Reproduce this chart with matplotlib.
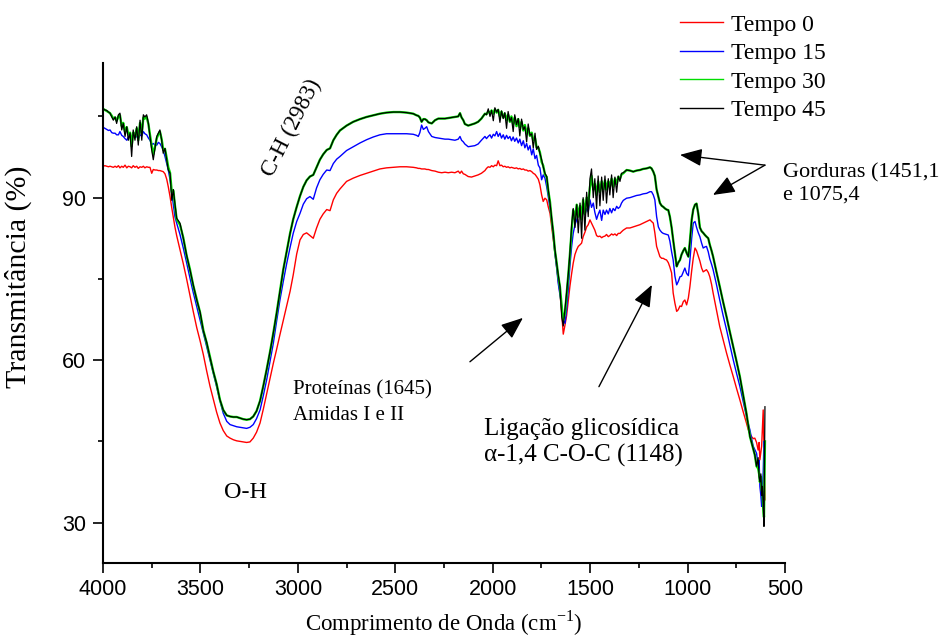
import matplotlib
matplotlib.use('Agg')
import matplotlib.pyplot as plt
from matplotlib.ticker import MultipleLocator

# FTIR spectra, wavenumber in cm-1 (descending)
wavenumber = [
    4000, 3990, 3981, 3972, 3964, 3955, 3947, 3938, 3930, 3921,
    3913, 3904, 3896, 3887, 3878, 3870, 3861, 3853, 3845, 3836,
    3827, 3819, 3810, 3801, 3793, 3785, 3776, 3767, 3759, 3750,
    3742, 3733, 3724, 3716, 3708, 3699, 3691, 3682, 3673, 3665,
    3656, 3647, 3639, 3631,
    3622, 3605, 3588, 3571, 3554, 3537, 3519, 3502, 3485, 3468,
    3451, 3434, 3417, 3400, 3383, 3365, 3348, 3331, 3314, 3297,
    3280, 3263, 3246, 3229, 3212, 3194, 3177, 3160, 3143, 3126,
    3109, 3092, 3075, 3057, 3040, 3024, 3006, 2989, 2972, 2955,
    2938, 2921, 2904, 2887, 2870, 2852, 2835, 2818, 2801, 2784,
    2750, 2716, 2681, 2647, 2613, 2579, 2545, 2510, 2476, 2442,
    2408, 2391, 2382, 2374, 2365, 2356, 2348, 2339, 2330, 2313,
    2296, 2279, 2262, 2245, 2228, 2211, 2194, 2177, 2168, 2160,
    2151, 2143, 2126, 2109, 2092, 2075, 2058, 2040,
    2032, 2023, 2014, 2006, 1997, 1989, 1980, 1972, 1963, 1955,
    1946, 1938, 1929, 1921, 1912, 1904, 1895, 1887, 1878, 1869,
    1861, 1852, 1843, 1835, 1826, 1818, 1809, 1800, 1792, 1783,
    1775, 1766,
    1758, 1749, 1741, 1732, 1723, 1715, 1706, 1698, 1689, 1681,
    1672, 1664, 1655, 1646, 1638, 1629, 1621, 1612,
    1604, 1595, 1587, 1578, 1569, 1561, 1552, 1544, 1536, 1527,
    1518, 1510, 1501, 1493, 1484, 1476, 1467, 1459, 1450, 1441,
    1433, 1424, 1416, 1407, 1399, 1390, 1382, 1373, 1364, 1356,
    1347, 1339, 1330,
    1313, 1296, 1279, 1262, 1245, 1228, 1210, 1193, 1185, 1176,
    1168, 1159, 1150, 1142, 1133, 1125, 1116, 1108, 1099, 1091,
    1082, 1074, 1065, 1056, 1048, 1039, 1031, 1022, 1014, 1005,
    996, 988, 979, 971, 962, 954, 945, 937, 928, 920,
    911, 903, 894, 886, 877, 869, 852, 835, 818, 800,
    783, 766, 749, 732, 715, 698, 689, 680, 672, 663,
    655, 646, 638, 633, 629, 624, 620, 616, 612, 608,
    603,
]

tempo_0 = [
    95.8, 95.9, 95.8, 95.7, 95.8, 95.7, 95.6, 95.8, 95.6, 95.9,
    95.5, 95.8, 95.6, 96.0, 95.5, 95.8, 95.7, 95.5, 95.9, 95.6,
    95.8, 95.4, 95.7, 95.6, 95.8, 95.5, 95.7, 95.6, 95.6, 94.5,
    95.2, 95.1, 95.1, 95.0, 95.0, 94.9, 94.8, 94.4, 93.4, 92.0,
    90.2, 88.1, 86.4, 84.6,
    83.0, 80.4, 77.8, 75.0, 72.0, 69.0, 66.0, 63.6, 61.0, 58.0,
    55.2, 52.8, 50.4, 48.4, 47.0, 46.0, 45.6, 45.3, 45.1, 45.0,
    44.9, 44.8, 44.9, 45.6, 46.7, 48.4, 51.0, 53.8, 56.6, 59.4,
    62.0, 64.7, 67.3, 70.0, 72.7, 75.7, 79.6, 82.2, 83.2, 83.5,
    83.0, 82.5, 84.4, 86.0, 87.0, 87.8, 87.6, 89.6, 90.8, 91.6,
    93.0, 93.6, 94.1, 94.5, 94.9, 95.3, 95.5, 95.6, 95.7, 95.7,
    95.6, 95.5, 95.4, 95.4, 95.3, 95.3, 95.3, 95.2, 95.2, 95.0,
    94.9, 94.7, 94.6, 94.7, 94.6, 94.7, 94.6, 94.9, 94.5, 94.9,
    94.4, 94.3, 93.9, 93.8, 94.0, 94.2, 94.5, 95.0,
    95.4, 95.7, 95.6, 95.9, 95.7, 96.0, 95.9, 96.8, 95.9, 96.0,
    95.7, 95.8, 95.6, 95.7, 95.5, 95.6, 95.5, 95.4, 95.5, 95.3,
    95.4, 95.2, 95.3, 95.1, 95.1, 94.9, 95.0, 94.8, 94.5, 94.3,
    93.9, 93.4,
    92.4, 90.5, 89.3, 89.9, 89.6, 88.3, 87.1, 84.8, 82.2, 79.8,
    77.3, 74.8, 72.4, 68.7, 64.8, 66.5, 68.2, 71.0,
    73.6, 76.0, 77.9, 79.5, 80.4, 81.0, 81.3, 81.6, 82.8, 83.6,
    84.6, 85.0, 85.9, 85.3, 84.6, 84.0, 83.0, 82.8, 82.9, 82.6,
    82.8, 82.9, 83.2, 82.8, 83.0, 83.3, 83.1, 83.3, 83.0, 83.4,
    83.4, 83.7, 84.0,
    84.4, 84.4, 84.6, 84.8, 85.0, 85.3, 85.6, 85.9, 85.6, 85.3,
    83.5, 81.0, 80.0, 79.1, 78.8, 78.8, 78.6, 78.5, 78.0, 77.2,
    76.1, 72.4, 70.5, 69.0, 69.3, 70.0, 69.9, 70.8, 71.1, 70.2,
    71.5, 73.6, 76.5, 78.8, 80.7, 80.2, 79.2, 78.3, 77.0, 76.3,
    76.5, 76.7, 76.2, 75.4, 74.0, 72.4, 69.3, 66.2, 63.8, 61.3,
    59.1, 57.0, 54.8, 52.7, 50.5, 48.4, 47.2, 46.4, 45.9, 45.5,
    45.6, 44.8, 43.4, 44.8, 41.6, 43.0, 44.1, 47.5, 50.8, 43.0,
    34.2,
]

tempo_15 = [
    103.0, 102.8, 102.6, 102.4, 102.5, 102.0, 101.9, 101.9, 101.6, 101.6,
    102.2, 101.5, 101.3, 100.9, 100.6, 101.2, 101.6, 100.8, 101.9, 101.2,
    101.3, 100.9, 101.6, 101.4, 102.2, 101.8, 101.6, 101.0, 100.6, 99.8,
    100.0, 99.7, 99.7, 100.2, 100.0, 99.4, 98.8, 97.6, 96.3, 95.1,
    93.3, 90.8, 88.5, 86.5,
    85.3, 83.2, 80.7, 78.0, 75.2, 72.5, 69.9, 67.5, 65.0, 62.5,
    60.1, 57.6, 55.1, 52.5, 50.2, 48.7, 48.1, 47.9, 47.7, 47.6,
    47.5, 47.4, 47.6, 48.1, 49.2, 50.8, 53.5, 56.4, 59.8, 63.1,
    67.2, 71.1, 74.5, 77.9, 80.8, 83.4, 85.6, 87.1, 88.8, 89.8,
    90.2, 89.7, 91.8, 93.3, 94.3, 95.1, 95.0, 96.3, 97.1, 97.6,
    98.7, 99.4, 100.1, 100.7, 101.2, 101.6, 101.8, 101.8, 101.8, 101.8,
    101.7, 101.5, 101.3, 102.0, 103.4, 102.6, 102.8, 103.1, 102.2, 101.3,
    101.1, 101.0, 100.9, 100.8, 100.8, 100.7, 100.6, 100.8, 101.3, 100.6,
    100.3, 99.9, 99.4, 99.5, 99.6, 99.9, 100.6, 101.3,
    100.9, 101.3, 101.6, 101.0, 101.7, 101.4, 102.2, 101.3, 101.9, 101.0,
    101.6, 100.8, 101.5, 100.9, 101.3, 100.5, 101.2, 100.4, 101.0, 100.1,
    100.8, 99.6, 100.5, 99.2, 100.0, 98.8, 99.6, 97.9, 99.0, 97.2,
    97.8, 96.0,
    95.5, 93.3, 94.2, 93.6, 92.0, 90.2, 88.0, 85.9, 82.8, 79.7,
    77.0, 74.2, 72.0, 69.9, 67.4, 66.8, 69.3, 73.2,
    77.3, 81.0, 83.4, 85.0, 85.9, 86.8, 87.1, 86.3, 87.7, 86.8,
    88.0, 87.4, 89.6, 88.2, 89.0, 87.3, 86.0, 86.9, 87.7, 85.8,
    87.7, 86.9, 87.7, 87.0, 88.0, 87.2, 88.0, 87.6, 88.4, 88.0,
    88.3, 89.0, 89.5,
    89.9, 90.0, 90.2, 90.4, 90.5, 90.7, 90.8, 91.1, 91.1, 90.5,
    89.6, 86.5, 84.6, 84.0, 83.6, 83.4, 83.3, 83.2, 83.1, 82.0,
    80.0, 78.5, 75.5, 73.9, 74.5, 75.4, 75.5, 76.3, 77.0, 76.0,
    75.6, 78.5, 82.5, 85.3, 85.6, 84.5, 83.5, 82.8, 81.6, 80.7,
    80.9, 81.0, 80.0, 78.7, 77.7, 76.7, 74.0, 71.1, 68.3, 65.6,
    62.8, 60.1, 57.6, 55.2, 52.4, 49.6, 48.3, 47.1, 45.6, 44.1,
    43.5, 42.8, 40.5, 41.5, 36.7, 35.0, 33.0, 36.0, 39.2, 45.0,
    43.4,
]

tempo_30 = [
    106.4, 106.2, 106.0, 105.8, 105.6, 105.1, 104.6, 104.8, 104.2, 105.0,
    105.2, 103.2, 103.8, 102.2, 103.0, 101.6, 102.0, 99.5, 102.0, 101.2,
    102.8, 100.6, 103.8, 101.8, 104.8, 104.6, 104.9, 103.6, 101.6, 99.5,
    98.0, 99.4, 101.0, 101.7, 102.2, 100.8, 98.8, 99.0, 97.3, 95.6,
    94.6, 91.0, 91.3, 88.6,
    86.0, 85.0, 82.6, 79.3, 76.8, 73.8, 71.2, 68.8, 65.5, 63.2,
    60.6, 57.9, 55.6, 52.7, 50.8, 49.8, 49.6, 49.5, 49.5, 49.3,
    49.1, 49.0, 49.1, 49.6, 50.6, 52.5, 55.3, 58.3, 61.5, 65.0,
    68.7, 72.7, 76.7, 80.2, 83.4, 86.0, 88.3, 90.3, 92.0, 93.2,
    93.9, 94.2, 95.6, 97.0, 98.0, 98.8, 99.1, 100.6, 101.6, 102.4,
    103.3, 104.0, 104.5, 104.9, 105.2, 105.5, 105.7, 105.8, 105.8, 105.7,
    105.5, 105.2, 105.1, 104.8, 104.0, 104.5, 104.5, 104.3, 103.9, 103.7,
    104.3, 104.6, 104.6, 104.6, 104.7, 104.8, 104.9, 105.0, 105.6, 104.8,
    104.3, 103.6, 103.3, 103.5, 103.7, 104.0, 104.6, 105.5,
    105.4, 105.9, 105.7, 106.1, 105.5, 106.3, 105.7, 106.2, 105.0, 105.9,
    104.8, 105.5, 104.3, 105.3, 104.0, 105.0, 103.6, 104.8, 103.2, 104.5,
    103.0, 104.0, 102.4, 103.4, 101.8, 102.8, 101.4, 102.0, 100.6, 101.0,
    99.3, 99.2,
    98.4, 96.6, 95.9, 94.3, 93.8, 91.3, 89.2, 86.2, 83.5, 80.3,
    78.0, 75.6, 73.5, 69.9, 67.4, 68.7, 72.0, 75.8,
    79.5, 84.0, 87.7, 86.0, 88.7, 86.5, 88.5, 86.0, 89.6, 87.0,
    90.0, 88.5, 92.0, 94.0, 91.5, 92.5, 90.5, 93.0, 91.0, 93.0,
    91.5, 93.2, 91.5, 93.0, 92.0, 93.5, 92.0, 93.5, 92.5, 93.8,
    93.5, 94.3, 94.5,
    95.1, 95.0, 94.8, 95.0, 95.1, 95.3, 95.4, 95.6, 95.4, 94.8,
    94.0, 91.5, 90.2, 89.0, 88.5, 88.3, 88.0, 87.8, 87.7, 86.5,
    84.5, 82.2, 79.8, 77.3, 78.0, 78.5, 79.5, 80.2, 80.7, 79.8,
    79.1, 82.0, 85.9, 87.8, 88.7, 88.9, 87.0, 84.5, 83.8, 83.5,
    83.1, 82.8, 82.5, 81.3, 80.2, 79.1, 76.3, 73.6, 70.8, 68.0,
    65.2, 62.5, 59.8, 57.0, 53.6, 50.2, 48.0, 45.9, 44.8, 43.5,
    42.5, 40.4, 40.0, 39.0, 37.5, 38.5, 36.0, 35.5, 33.0, 31.0,
    45.0,
]

tempo_45 = [
    106.4, 106.2, 106.1, 105.8, 105.6, 104.9, 104.3, 104.9, 103.7, 105.3,
    105.6, 102.5, 103.7, 101.3, 103.1, 100.6, 101.9, 97.6, 102.5, 100.6,
    103.1, 99.7, 104.3, 100.6, 105.3, 104.9, 105.3, 103.7, 101.3, 98.8,
    97.0, 99.1, 101.3, 101.9, 102.5, 100.6, 98.2, 99.1, 97.0, 95.1,
    94.5, 89.5, 91.5, 88.9,
    86.2, 85.3, 82.5, 79.4, 76.7, 73.9, 71.1, 68.9, 65.4, 63.3,
    60.5, 57.9, 55.6, 52.7, 50.8, 49.8, 49.6, 49.5, 49.5, 49.3,
    49.1, 49.0, 49.1, 49.6, 50.6, 52.5, 55.3, 58.3, 61.5, 65.0,
    68.7, 72.7, 76.7, 80.2, 83.4, 86.0, 88.3, 90.3, 92.0, 93.2,
    93.9, 94.2, 95.6, 97.0, 98.0, 98.8, 99.1, 100.6, 101.6, 102.4,
    103.3, 104.0, 104.5, 104.9, 105.2, 105.5, 105.7, 105.8, 105.8, 105.7,
    105.5, 105.2, 105.1, 104.8, 104.0, 104.5, 104.5, 104.3, 103.9, 103.7,
    104.3, 104.6, 104.6, 104.6, 104.7, 104.8, 104.9, 105.0, 105.6, 104.8,
    104.3, 103.6, 103.3, 103.5, 103.7, 104.0, 104.6, 105.5,
    105.3, 106.4, 105.0, 106.1, 104.2, 106.6, 105.8, 106.3, 103.9, 106.0,
    104.6, 105.7, 102.8, 105.9, 104.1, 104.8, 102.2, 105.3, 103.5, 104.6,
    101.4, 104.5, 102.6, 103.1, 100.3, 103.6, 101.5, 101.8, 99.2, 101.9,
    98.9, 99.5,
    98.2, 97.0, 95.7, 94.5, 93.9, 91.5, 89.0, 86.4, 83.4, 80.5,
    77.9, 75.8, 73.6, 68.0, 66.3, 69.5, 72.4, 76.0,
    79.7, 85.0, 88.0, 84.5, 88.7, 83.5, 89.0, 82.5, 90.0, 84.0,
    91.0, 86.5, 93.5, 95.3, 90.0, 93.5, 88.0, 94.0, 88.5, 93.8,
    89.5, 94.0, 89.0, 93.5, 90.5, 94.2, 90.0, 93.8, 91.0, 94.0,
    93.0, 94.5, 94.6,
    95.1, 95.0, 94.8, 95.0, 95.1, 95.3, 95.4, 95.6, 95.4, 94.8,
    94.0, 91.5, 90.2, 89.0, 88.5, 88.3, 88.0, 87.8, 87.7, 86.5,
    84.5, 82.2, 79.8, 77.3, 78.0, 78.5, 79.5, 80.2, 80.7, 79.8,
    79.1, 82.0, 85.9, 87.8, 88.7, 88.9, 87.0, 84.5, 83.8, 83.5,
    83.1, 82.8, 82.5, 81.3, 80.2, 79.1, 76.3, 73.6, 70.8, 68.0,
    65.2, 62.5, 59.8, 57.0, 53.6, 50.2, 48.0, 45.9, 44.8, 43.5,
    42.5, 40.4, 42.0, 38.5, 37.5, 39.0, 35.0, 36.7, 33.6, 29.3,
    51.4,
]

labels = ['Tempo 0', 'Tempo 15', 'Tempo 30', 'Tempo 45']
colors = ['#ff0000', '#0000ff', '#00dd00', '#000000']
widths = [1.0, 1.0, 1.7, 0.9]

for s in (tempo_0, tempo_15, tempo_30, tempo_45):
    assert len(s) == len(wavenumber), len(s)

serif = 'Liberation Serif'
plt.rcParams['font.family'] = 'Liberation Sans'
plt.rcParams['mathtext.fontset'] = 'custom'
plt.rcParams['mathtext.rm'] = serif

fig = plt.figure(figsize=(9.52, 6.39), dpi=100)
ax = fig.add_axes([0.1082, 0.1194, 0.7164, 0.7815])

for vals, lab, col, lw in zip((tempo_0, tempo_15, tempo_30, tempo_45), labels, colors, widths):
    ax.plot(wavenumber, vals, color=col, lw=lw, label=lab)

ax.set_xlim(4000, 500)
ax.set_ylim(22.6, 114.8)
ax.xaxis.set_major_locator(MultipleLocator(500))
ax.xaxis.set_minor_locator(MultipleLocator(250))
ax.yaxis.set_major_locator(MultipleLocator(30))
ax.yaxis.set_minor_locator(MultipleLocator(15))
for side in ('top', 'right'):
    ax.spines[side].set_visible(False)
for side in ('left', 'bottom'):
    ax.spines[side].set_linewidth(1.5)
ax.tick_params(which='major', direction='out', length=7, width=1.2, labelsize=15.5, pad=5)
ax.tick_params(which='minor', direction='out', length=3.5, width=1.2)

ax.set_xlabel('Comprimento de Onda (cm$^{-1}$)', fontsize=16.5, family=serif)
ax.set_ylabel('Transmitância (%)', fontsize=21.5, family=serif)
ax.xaxis.set_label_coords(0.5, -0.092)
ax.yaxis.set_label_coords(-0.104, 0.573)

leg = ax.legend(loc='upper left', bbox_to_anchor=(680 / 952, 1 - 14 / 639),
                bbox_transform=fig.transFigure, frameon=False,
                prop={'family': serif, 'size': 17}, handlelength=1.82,
                handletextpad=0.34, labelspacing=0.3, borderpad=0, borderaxespad=0)
for line in leg.get_lines():
    line.set_linewidth(1.0)

ax.text(3030, 102.9, 'C-H (2983)', rotation=63, ha='center', va='center',
        rotation_mode='anchor', family=serif, fontsize=16.5)
ax.text(3270, 35.6, 'O-H', ha='center', va='center', family=serif, fontsize=17.5)
ax.text(3024, 52.2, 'Proteínas (1645)\nAmidas I e II', ha='left', va='center',
        linespacing=1.45, family=serif, fontsize=15)
ax.text(2045, 44.8, 'Ligação glicosídica\nα-1,4 C-O-C (1148)', ha='left', va='center',
        linespacing=1.24, family=serif, fontsize=18)
ax.text(509, 92.6, 'Gorduras (1451,1\ne 1075,4', ha='left', va='center',
        linespacing=1.2, family=serif, fontsize=16)

arrow = dict(arrowstyle='-|>,head_length=0.9,head_width=0.36', color='black',
             lw=1.0, mutation_scale=15, shrinkA=0, shrinkB=0)
ax.annotate('', xy=(1845, 67.8), xytext=(2117, 59.7), arrowprops=arrow)
ax.annotate('', xy=(1183, 73.9), xytext=(1455, 55.1), arrowprops=arrow)
ax.annotate('', xy=(1039, 97.9), xytext=(603, 96.0), arrowprops=arrow,
            annotation_clip=False)
ax.annotate('', xy=(870, 90.5), xytext=(603, 96.0), arrowprops=arrow,
            annotation_clip=False)

fig.savefig('out.png', dpi=100)
